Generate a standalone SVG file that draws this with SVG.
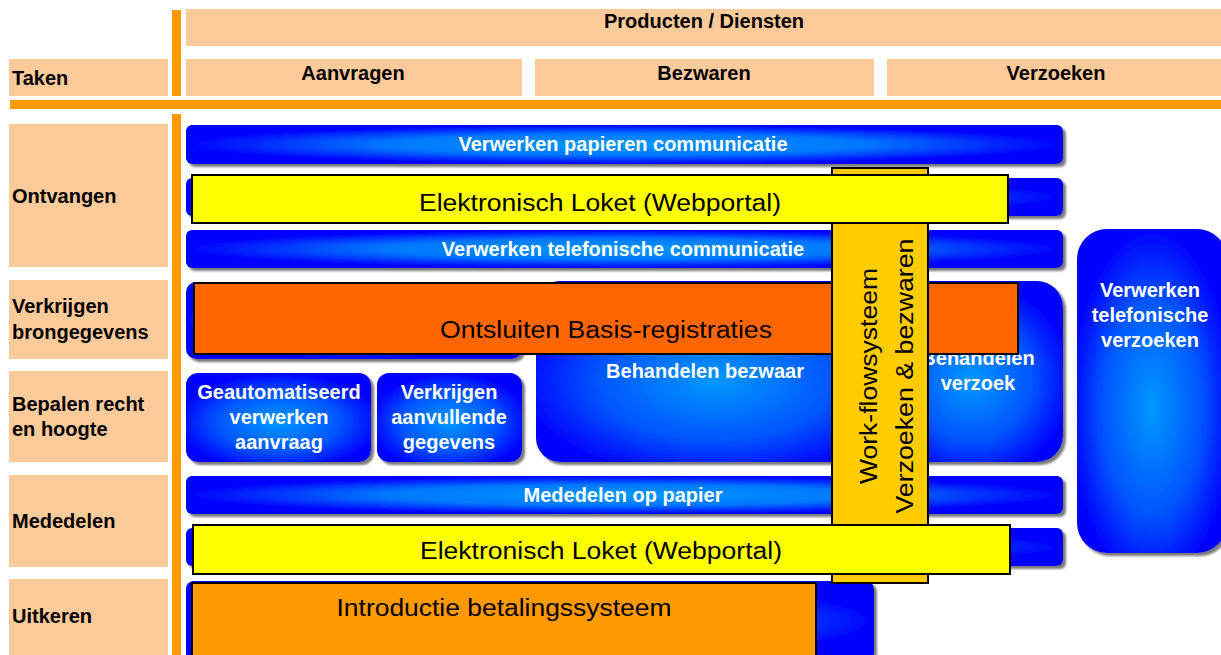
<svg xmlns="http://www.w3.org/2000/svg" width="1221" height="655" viewBox="0 0 1221 655">
  <defs>
    <radialGradient id="blueBar" cx="50%" cy="50%" r="50%">
      <stop offset="0" stop-color="#0099ff"/>
      <stop offset="0.55" stop-color="#0077ff"/>
      <stop offset="1" stop-color="#0000ff"/>
    </radialGradient>
    <radialGradient id="blueBox" cx="50%" cy="55%" r="55%">
      <stop offset="0" stop-color="#0099ff"/>
      <stop offset="0.6" stop-color="#0055ff"/>
      <stop offset="1" stop-color="#0000ff"/>
    </radialGradient>
    <filter id="shadow" x="-5%" y="-5%" width="115%" height="130%">
      <feDropShadow dx="3" dy="3" stdDeviation="0.8" flood-color="#7a7a7a" flood-opacity="1"/>
    </filter>
  </defs>
  <style>
    .hdr { fill: #fdcb9a; }
    .bar { fill: #ff9900; }
    .lbl { font-family: "Liberation Sans", Arial, sans-serif; font-weight: bold; font-size: 20px; fill: #000; }
    .wt { font-family: "Liberation Sans", Arial, sans-serif; font-weight: bold; font-size: 20px; fill: #fff; text-anchor: middle; }
    .bb { fill: url(#blueBar); filter: url(#shadow); }
    .bx { fill: url(#blueBox); filter: url(#shadow); }
    .big { font-family: "Liberation Sans", Arial, sans-serif; font-size: 23px; fill: #000; text-anchor: middle; }
    .blk { stroke: #000; stroke-width: 2; }
  </style>

  <!-- header grid -->
  <g id="header">
    <rect class="hdr" x="186" y="9" width="1035" height="37"/>
    <text class="lbl" x="704" y="28" text-anchor="middle">Producten / Diensten</text>
    <rect class="hdr" x="9" y="59" width="159" height="37"/>
    <text class="lbl" x="12" y="85">Taken</text>
    <rect class="hdr" x="186" y="59" width="336" height="37"/>
    <text class="lbl" x="353" y="80" text-anchor="middle">Aanvragen</text>
    <rect class="hdr" x="535" y="59" width="339" height="37"/>
    <text class="lbl" x="704" y="80" text-anchor="middle">Bezwaren</text>
    <rect class="hdr" x="887" y="59" width="334" height="37"/>
    <text class="lbl" x="1056" y="80" text-anchor="middle">Verzoeken</text>
    <rect class="bar" x="172" y="10" width="9" height="86"/>
    <rect class="bar" x="10" y="100" width="1211" height="9"/>
    <rect class="bar" x="172" y="114" width="9" height="541"/>
  </g>

  <!-- task rows -->
  <g id="taken">
    <rect class="hdr" x="9" y="124" width="159" height="143"/>
    <text class="lbl" x="12" y="203">Ontvangen</text>
    <rect class="hdr" x="9" y="280" width="159" height="79"/>
    <text class="lbl" x="12" y="313">Verkrijgen</text>
    <text class="lbl" x="12" y="339">brongegevens</text>
    <rect class="hdr" x="9" y="371" width="159" height="91"/>
    <text class="lbl" x="12" y="411">Bepalen recht</text>
    <text class="lbl" x="12" y="436">en hoogte</text>
    <rect class="hdr" x="9" y="475" width="159" height="92"/>
    <text class="lbl" x="12" y="528">Mededelen</text>
    <rect class="hdr" x="9" y="579" width="159" height="76"/>
    <text class="lbl" x="12" y="623">Uitkeren</text>
  </g>

  <!-- process blocks -->
  <g id="papier">
    <rect class="bb" x="186" y="125" width="877" height="39" rx="6"/>
    <text class="wt" x="623" y="151">Verwerken papieren communicatie</text>
  </g>
  <g id="elektronisch-ontvangen">
    <rect class="bb" x="186" y="178" width="877" height="38" rx="6"/>
  </g>
  <g id="telefonisch">
    <rect class="bb" x="186" y="230" width="877" height="38" rx="6"/>
    <text class="wt" x="623" y="256">Verwerken telefonische communicatie</text>
  </g>
  <g id="brongegevens">
    <rect class="bb" x="186" y="282" width="336" height="77" rx="10"/>
  </g>
  <g id="behandelen-bezwaar">
    <rect class="bx" x="536" y="281" width="360" height="181" rx="24"/>
    <text class="wt" x="705" y="378">Behandelen bezwaar</text>
  </g>
  <g id="behandelen-verzoek">
    <rect class="bx" x="880" y="281" width="183" height="181" rx="26"/>
    <text class="wt" x="978" y="365">Behandelen</text>
    <text class="wt" x="978" y="390">verzoek</text>
  </g>
  <g id="geautomatiseerd">
    <rect class="bx" x="186" y="373" width="185" height="89" rx="12"/>
    <text class="wt" x="279" y="399">Geautomatiseerd</text>
    <text class="wt" x="279" y="424">verwerken</text>
    <text class="wt" x="279" y="449">aanvraag</text>
  </g>
  <g id="aanvullend">
    <rect class="bx" x="377" y="373" width="145" height="89" rx="12"/>
    <text class="wt" x="449" y="399">Verkrijgen</text>
    <text class="wt" x="449" y="424">aanvullende</text>
    <text class="wt" x="449" y="449">gegevens</text>
  </g>
  <g id="mededelen-papier">
    <rect class="bb" x="186" y="476" width="877" height="38" rx="6"/>
    <text class="wt" x="623" y="502">Mededelen op papier</text>
  </g>
  <g id="mededelen-elektronisch">
    <rect class="bb" x="186" y="528" width="877" height="38" rx="6"/>
  </g>
  <g id="uitkeren">
    <rect class="bb" x="186" y="581" width="688" height="80" rx="8"/>
  </g>
  <g id="telefonische-verzoeken">
    <rect class="bx" x="1077" y="229" width="150" height="324" rx="30"/>
    <text class="wt" x="1150" y="297">Verwerken</text>
    <text class="wt" x="1150" y="322">telefonische</text>
    <text class="wt" x="1150" y="347">verzoeken</text>
  </g>

  <!-- overlaid systems -->
  <g id="basisregistraties">
    <rect class="blk" x="194" y="283" width="824" height="71" fill="#ff6600"/>
    <text class="big" x="606" y="338" font-size="24" textLength="332" lengthAdjust="spacingAndGlyphs">Ontsluiten Basis-registraties</text>
  </g>
  <g id="betalingssysteem">
    <rect class="blk" x="192" y="583" width="624" height="76" fill="#ff9900"/>
    <text class="big" x="504" y="616" font-size="24" textLength="335" lengthAdjust="spacingAndGlyphs">Introductie betalingssysteem</text>
  </g>
  <g id="workflow">
    <rect class="blk" x="832" y="168" width="96" height="415" fill="#ffcc00"/>
    <text class="big" transform="translate(877 376) rotate(-90)" font-size="24" textLength="216" lengthAdjust="spacingAndGlyphs">Work-flowsysteem</text>
    <text class="big" transform="translate(913 376) rotate(-90)" font-size="24" textLength="275" lengthAdjust="spacingAndGlyphs">Verzoeken &amp; bezwaren</text>
  </g>
  <g id="loket-ontvangen">
    <rect class="blk" x="192" y="175" width="816" height="48" fill="#ffff00"/>
    <text class="big" x="600" y="211" textLength="362" lengthAdjust="spacingAndGlyphs">Elektronisch Loket (Webportal)</text>
  </g>
  <g id="loket-mededelen">
    <rect class="blk" x="193" y="525" width="817" height="49" fill="#ffff00"/>
    <text class="big" x="601" y="559" textLength="362" lengthAdjust="spacingAndGlyphs">Elektronisch Loket (Webportal)</text>
  </g>
</svg>
